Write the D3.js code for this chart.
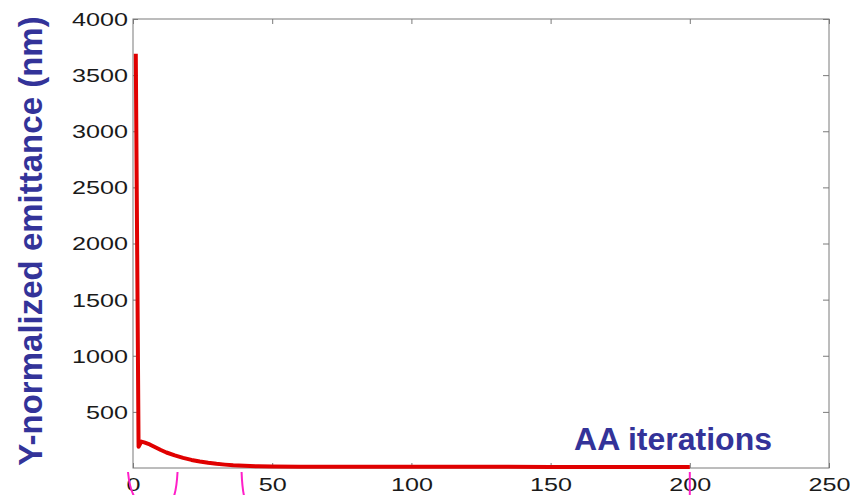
<!DOCTYPE html>
<html>
<head>
<meta charset="utf-8">
<script src="https://cdn.jsdelivr.net/npm/d3@7"></script>
<style>
  html, body { margin: 0; padding: 0; background: #fff; }
  svg { display: block; }
</style>
</head>
<body>
<svg id="chart" width="850" height="495"></svg>
<script>
// Emittance per AA iteration
const iterations = [1, 2, 3, 4, 6, 8, 10, 12, 15, 18, 21, 24, 27, 30, 33, 36, 40, 45, 50, 60, 80, 100, 150, 200];
const emittance  = [3690, 190, 235, 228, 210, 185, 160, 138, 112, 90, 72, 58, 46, 37, 30, 24, 19, 15, 13, 12, 11, 11, 10, 10];

const xTicks = [0, 50, 100, 150, 200, 250];
const yTicks = [500, 1000, 1500, 2000, 2500, 3000, 3500, 4000];

// Hand-drawn magenta marks along the iteration axis
const markIterations = [0, 16, 39, 200];
const markTopShift    = [-5, 0, 0, 0];
const markBottomShift = [1, -3.5, 2.5, 0];

const yTitle = "Y-normalized emittance (nm)";
const xTitle = "AA iterations";

const svg = d3.select("#chart");
const plot = { left: 133, right: 829, top: 19, bottom: 468 };
const labelStretch = 1.4;

const x = d3.scaleLinear().domain([0, 250]).range([plot.left, plot.right]);
const y = d3.scaleLinear().domain([0, 4000]).range([plot.bottom, plot.top]);

const axisColor = "#7a7a7a";
const labelFont = "'Liberation Sans', Arial, Helvetica, sans-serif";

// Frame
svg.append("rect")
  .attr("x", plot.left).attr("y", plot.top)
  .attr("width", plot.right - plot.left).attr("height", plot.bottom - plot.top)
  .attr("fill", "none").attr("stroke", axisColor).attr("stroke-width", 1);

function styleAxis(g) {
  g.select(".domain").remove();
  g.selectAll(".tick line").attr("stroke", axisColor);
  g.selectAll(".tick text")
    .attr("fill", "#1a1a1a")
    .style("font-family", labelFont)
    .style("font-size", "18px");
}

// Left axis (inward ticks, stretched labels)
const gLeft = svg.append("g")
  .attr("transform", `translate(${plot.left},0)`)
  .call(d3.axisLeft(y).tickValues(yTicks).tickFormat(d3.format("d")).tickSizeInner(-5).tickSizeOuter(0));
styleAxis(gLeft);
gLeft.selectAll(".tick text")
  .attr("x", -5 / labelStretch)
  .attr("dy", "0.36em")
  .attr("transform", `scale(${labelStretch},1)`);

// Right axis ticks only
const gRight = svg.append("g")
  .attr("transform", `translate(${plot.right},0)`)
  .call(d3.axisRight(y).tickValues(yTicks).tickFormat("").tickSizeInner(-6).tickSizeOuter(0));
styleAxis(gRight);

// Bottom axis
const gBottom = svg.append("g")
  .attr("transform", `translate(0,${plot.bottom})`)
  .call(d3.axisBottom(x).tickValues(xTicks).tickFormat(d3.format("d")).tickSizeInner(-5).tickSizeOuter(0));
styleAxis(gBottom);
gBottom.selectAll(".tick text")
  .attr("y", 23.5)
  .attr("dy", 0)
  .attr("transform", `scale(${labelStretch},1)`);

// Top axis ticks only
const gTop = svg.append("g")
  .attr("transform", `translate(0,${plot.top})`)
  .call(d3.axisTop(x).tickValues(xTicks).tickFormat("").tickSizeInner(-5).tickSizeOuter(0));
styleAxis(gTop);

// Emittance curve
const line = d3.line()
  .x((d, i) => x(iterations[i]))
  .y(d => y(d));

svg.append("path")
  .datum(emittance)
  .attr("d", line)
  .attr("fill", "none")
  .attr("stroke", "#e00000")
  .attr("stroke-width", 4)
  .attr("stroke-linejoin", "round");

// Magenta marks below the axis
svg.selectAll(".mark")
  .data(markIterations)
  .join("path")
  .attr("class", "mark")
  .attr("d", (d, i) => {
    const cx = x(d), t = markTopShift[i], b = markBottomShift[i];
    return `M${cx + t},472 Q${cx + t + (b - t) * 0.25},488 ${cx + b},496`;
  })
  .attr("fill", "none")
  .attr("stroke", "#ff1fc8")
  .attr("stroke-width", 2);

// Titles
svg.append("text")
  .attr("transform", "translate(42,241) rotate(-90)")
  .attr("text-anchor", "middle")
  .attr("fill", "#333399")
  .style("font-family", labelFont)
  .style("font-weight", "bold")
  .style("font-size", "33px")
  .text(yTitle);

svg.append("text")
  .attr("x", 673).attr("y", 450)
  .attr("text-anchor", "middle")
  .attr("fill", "#333399")
  .style("font-family", labelFont)
  .style("font-weight", "bold")
  .style("font-size", "32px")
  .text(xTitle);
</script>
</body>
</html>
